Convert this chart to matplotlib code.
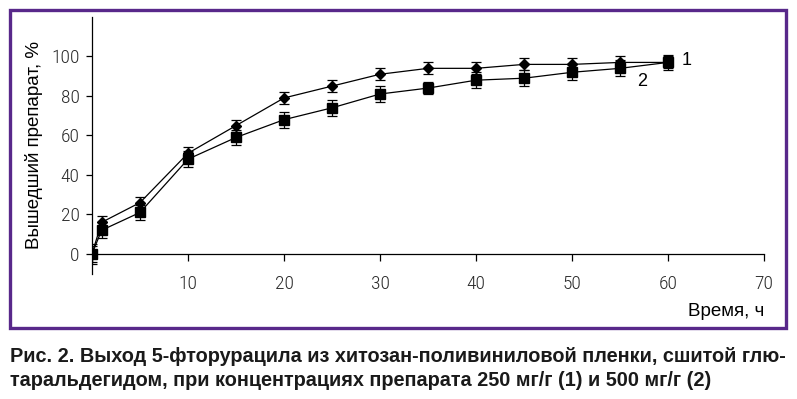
import matplotlib
matplotlib.use("Agg")
import matplotlib.pyplot as plt
from matplotlib.patches import Rectangle

# time points, h
hours = [0, 1, 5, 10, 15, 20, 25, 30, 35, 40, 45, 50, 55, 60]
# released drug, % (1 - 250 mg/g, 2 - 500 mg/g)
release_1 = [0, 16, 26, 51, 65, 79, 85, 91, 94, 94, 96, 96, 97, 97]
release_2 = [0, 12, 21, 48, 59, 68, 74, 81, 84, 88, 89, 92, 94, 97]
err_1 = [4, 3, 3, 3, 3, 3, 3, 3, 3, 3, 3, 3, 3, 3]
err_2 = [5, 4, 4, 4, 4, 4, 4, 4, 3, 4, 4, 4, 4, 4]

x_ticks = [10, 20, 30, 40, 50, 60, 70]
y_ticks = [0, 20, 40, 60, 80, 100]

narrow = ["Roboto Condensed", "PT Sans Narrow", "DejaVu Sans"]
plt.rcParams["font.family"] = ["Liberation Sans", "DejaVu Sans"]

fig = plt.figure(figsize=(7.97, 3.99), dpi=100)
fig.patch.set_facecolor("white")

# purple frame around the chart
frame = Rectangle((9.5 / 797, 1 - 327.5 / 399), 776 / 797, 318 / 399,
                  transform=fig.transFigure, fill=False,
                  edgecolor="#58288a", linewidth=2.4)
fig.patches.append(frame)

ax = fig.add_axes([92 / 797, 125.3 / 399, 672 / 797, 256.7 / 399])
ax.set_xlim(0, 70)
ax.set_ylim(-10, 120)

ax.errorbar(hours, release_1, yerr=err_1, color="black", marker="D",
            markersize=5, linewidth=0.9, elinewidth=0.9, capsize=3.5, capthick=0.9)
ax.errorbar(hours, release_2, yerr=err_2, color="black", marker="s",
            markersize=7.5, linewidth=0.9, elinewidth=0.9, capsize=3.5, capthick=0.9)

for s in ["top", "right"]:
    ax.spines[s].set_visible(False)
ax.spines["bottom"].set_position(("data", 0))
ax.spines["left"].set_bounds(-10, 120)
ax.spines["bottom"].set_bounds(0, 70)
for s in ["left", "bottom"]:
    ax.spines[s].set_linewidth(0.9)

ax.set_xticks(x_ticks)
ax.set_yticks(y_ticks)
ax.tick_params(axis="x", direction="out", length=5, width=0.9, pad=10, labelsize=14)
ax.tick_params(axis="y", direction="out", length=4, width=0.9, pad=5, labelsize=14)
for lab in ax.get_xticklabels() + ax.get_yticklabels():
    lab.set_fontfamily(narrow)
    lab.set_fontweight("light")
    lab.set_color("#2a2a2a")

ax.set_ylabel("Вышедший препарат, %", fontsize=13.5, labelpad=6)
fig.text(764 / 797, 1 - 312 / 399, "Время, ч", fontsize=13.5, ha="right", va="center")

ax.text(61.4, 98, "1", fontsize=13, va="center")
ax.text(56.8, 87.5, "2", fontsize=13, va="center")

caption_1 = "Рис. 2. Выход 5-фторурацила из хитозан-поливиниловой пленки, сшитой глю-"
caption_2 = "таральдегидом, при концентрациях препарата 250 мг/г (1) и 500 мг/г (2)"
fig.text(10 / 797, 1 - 357 / 399, caption_1, fontsize=14.3, fontweight="bold",
         ha="left", va="center", color="#1a1a1a")
fig.text(10 / 797, 1 - 381 / 399, caption_2, fontsize=14.3, fontweight="bold",
         ha="left", va="center", color="#1a1a1a")

fig.savefig("out.png", dpi=100, facecolor="white")
